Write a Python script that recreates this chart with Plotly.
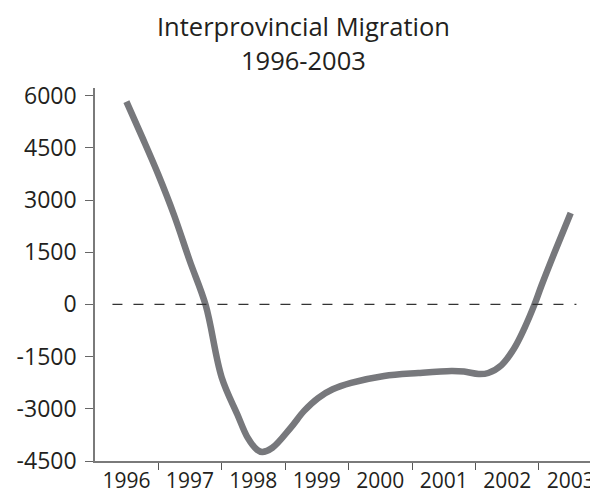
import plotly.graph_objects as go

# Data (year position, net migration)
years = [1996.00, 1996.25, 1996.50, 1996.75, 1997.00, 1997.25, 1997.50,
         1997.75, 1997.91, 1998.06, 1998.14, 1998.30, 1998.59, 1998.80, 1999.02,
         1999.25, 1999.54, 2000.06, 2000.60, 2001.12, 2001.32, 2001.55, 2001.70,
         2001.91, 2002.11, 2002.27, 2002.43, 2002.54, 2002.75, 2003.00]
migration = [5830, 4800, 3740, 2570, 1240, -30, -2090,
             -3170, -3830, -4180, -4240, -4120, -3540, -3060, -2690,
             -2440, -2257, -2057, -1971, -1914, -1930, -2000, -1971,
             -1743, -1257, -686, 0, 543, 1514, 2630]

year_labels = ["1996", "1997", "1998", "1999", "2000", "2001", "2002", "2003"]
year_pos = [1996, 1997, 1998, 1999, 2000, 2001, 2002, 2003]
boundaries = [1996.5, 1997.5, 1998.5, 1999.5, 2000.5, 2001.5, 2002.5]
y_ticks = [6000, 4500, 3000, 1500, 0, -1500, -3000, -4500]

title_line1 = "Interprovincial Migration"
title_line2 = "1996-2003"

FONT = "Open Sans"

fig = go.Figure()
fig.add_trace(go.Scatter(
    x=years, y=migration, mode="lines",
    line=dict(color="#77787c", width=6.5, shape="spline", smoothing=1.0),
    hoverinfo="skip", showlegend=False,
))

# dashed zero line
fig.add_shape(type="line", xref="x", yref="y",
              x0=1995.78, x1=2003.09, y0=0, y1=0,
              line=dict(color="#333333", width=1.3, dash="10px,11px"))

title_x = (295 - 87) / 503
fig.update_layout(
    width=590, height=486,
    margin=dict(l=87, r=0, t=80, b=31),
    paper_bgcolor="white", plot_bgcolor="white",
    font=dict(family=FONT, color="#231f20"),
    showlegend=False,
    annotations=[
        dict(text=title_line1, xref="paper", yref="paper",
             x=title_x, y=1.1653,
             xanchor="center", yanchor="middle", showarrow=False,
             font=dict(family=FONT, size=25.5, color="#231f20")),
        dict(text=title_line2, xref="paper", yref="paper",
             x=title_x, y=1.0747,
             xanchor="center", yanchor="middle", showarrow=False,
             font=dict(family=FONT, size=25.5, color="#231f20")),
    ],
)

fig.update_xaxes(
    range=[1995.505, 2003.43],
    tickmode="array", tickvals=year_pos, ticktext=year_labels,
    ticks="", showgrid=False, zeroline=False,
    showline=True, linecolor="#7a7a7a", linewidth=1.6,
    tickfont=dict(family=FONT, size=21, color="#231f20"),
    minor=dict(tickmode="array", tickvals=boundaries, ticks="outside",
               ticklen=7, tickwidth=1.4, tickcolor="#555555", showgrid=False),
)
fig.update_yaxes(
    range=[-4500, 6220],
    tickmode="array", tickvals=y_ticks, ticktext=[str(v) for v in y_ticks],
    ticks="outside", ticklen=8, tickwidth=1.4, tickcolor="#666666",
    ticklabelstandoff=4,
    showgrid=False, zeroline=False,
    showline=True, linecolor="#7a7a7a", linewidth=1.6,
    tickfont=dict(family=FONT, size=23, color="#231f20"),
)

fig.write_html("out.html")
